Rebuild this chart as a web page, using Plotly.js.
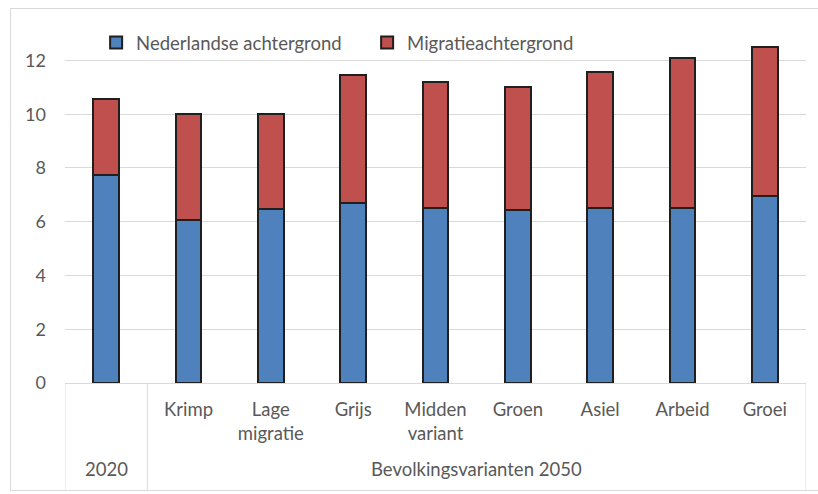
<!DOCTYPE html>
<html>
<head>
<meta charset="utf-8">
<script src="https://cdn.plot.ly/plotly-3.0.1.min.js"></script>
<style>
  html, body { margin: 0; padding: 0; background: #fff; }
  #wrap { position: relative; width: 818px; height: 494px; overflow: hidden; }
  #chart { position: absolute; left: 0; top: 0; width: 818px; height: 494px; }
  #frame { position: absolute; left: 10px; top: 8px; width: 830px; height: 481px;
           border: 1px solid #d9d9d9; pointer-events: none; }
</style>
</head>
<body>
<div id="wrap">
  <div id="chart"></div>
  <div id="frame"></div>
</div>
<script>
const categoryKeys = ["2020", "Krimp", "Lage migratie", "Grijs", "Midden variant", "Groen", "Asiel", "Arbeid", "Groei"];
const tickLabels = ["", "Krimp", "Lage<br>migratie", "Grijs", "Midden<br>variant", "Groen", "Asiel", "Arbeid", "Groei"];
const groupLabels = ["2020", "Bevolkingsvarianten 2050"];
const groupSizes = [1, 8];
const nederlandse = [7.75, 6.05, 6.47, 6.68, 6.52, 6.43, 6.52, 6.52, 6.94];
const migratie = [2.80, 3.95, 3.55, 4.77, 4.68, 4.57, 5.04, 5.58, 5.56];
const seriesNames = ["Nederlandse achtergrond", "Migratieachtergrond"];
const yTicks = [0, 2, 4, 6, 8, 10, 12];

const font = "Lato, 'Open Sans', sans-serif";
const grey = "#595959";
const lineGrey = "#d9d9d9";

const traces = [
  { type: "bar", name: seriesNames[0], x: categoryKeys, y: nederlandse,
    marker: { color: "#4f81bd", line: { color: "#1f1f1f", width: 2 } } },
  { type: "bar", name: seriesNames[1], x: categoryKeys, y: migratie,
    marker: { color: "#c0504d", line: { color: "#1f1f1f", width: 2 } } }
];

// group labels and dividers below the category axis
const annotations = [];
const shapes = [];
let start = 0;
const divBottom = -0.311; // paper units below axis
shapes.push({ type: "line", xref: "x", yref: "paper", x0: -0.5, x1: -0.5, y0: 0, y1: divBottom,
              line: { color: lineGrey, width: 1 } });
groupLabels.forEach((g, i) => {
  const end = start + groupSizes[i] - 1;
  annotations.push({ xref: "x", yref: "paper", x: (start + end) / 2, y: -0.252, text: g,
                     showarrow: false, xanchor: "center", yanchor: "middle",
                     font: { family: font, size: 18.5, color: grey } });
  shapes.push({ type: "line", xref: "x", yref: "paper", x0: end + 0.5, x1: end + 0.5, y0: 0, y1: divBottom,
                line: { color: lineGrey, width: 1 } });
  start = end + 1;
});

const layout = {
  width: 818, height: 494,
  margin: { l: 65, r: 12, t: 40, b: 111 },
  paper_bgcolor: "rgba(0,0,0,0)", plot_bgcolor: "#fff",
  barmode: "stack", bargap: 0.69,
  font: { family: font, size: 19, color: grey },
  showlegend: true,
  legend: { orientation: "h", x: 0.042, xanchor: "left", y: 0.991, yanchor: "middle",
            font: { family: font, size: 18.5, color: grey }, entrywidth: 226, entrywidthmode: "pixels",
            traceorder: "normal", bgcolor: "rgba(0,0,0,0)" },
  xaxis: { type: "category", categoryorder: "array", categoryarray: categoryKeys,
           tickvals: categoryKeys, ticktext: tickLabels, range: [-0.5, 8.5],
           showline: true, linecolor: lineGrey, linewidth: 1, showgrid: false,
           tickfont: { family: font, size: 18.5, color: grey }, ticks: "", ticklabelstandoff: 10 },
  yaxis: { range: [0, 12.76], tickvals: yTicks, ticktext: yTicks.map(String),
           showgrid: true, gridcolor: lineGrey, gridwidth: 1, zeroline: false,
           tickfont: { family: font, size: 18, color: grey }, ticks: "", ticklabelstandoff: 18 },
  annotations: annotations,
  shapes: shapes
};

Plotly.newPlot("chart", traces, layout, { displayModeBar: false, staticPlot: true });
</script>
</body>
</html>
